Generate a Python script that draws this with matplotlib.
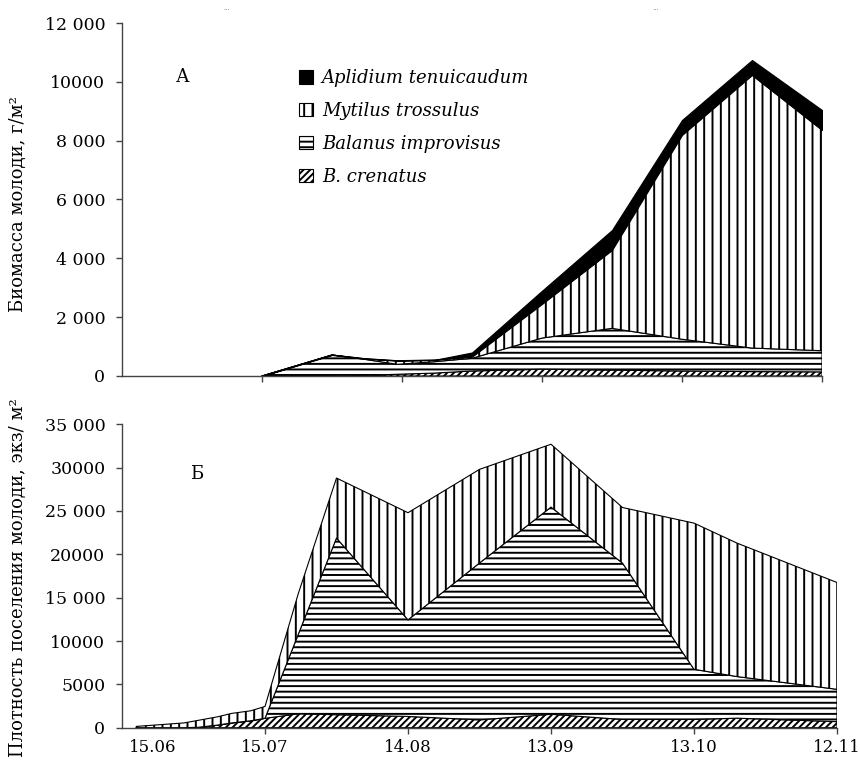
import numpy as np
import matplotlib
matplotlib.use("Agg")
import matplotlib.pyplot as plt
from matplotlib.patches import Patch

plt.rcParams['font.family'] = ['DejaVu Serif']
plt.rcParams['hatch.linewidth'] = 1.4

# ---------------- data ----------------
# days counted from 15.06
tick_days = [30, 60, 90, 120, 150]
tick_labels = ["15.07", "14.08", "13.09", "13.10", "12.11"]
first_label = "15.06"

species = ["Aplidium tenuicaudum", "Mytilus trossulus", "Balanus improvisus", "B. crenatus"]

# Panel A: biomass, g/m2 (individual layers, stacked from bottom)
days_a = [30, 45, 52, 59, 67, 75, 90, 105, 120, 135, 150]
crenatus_a = [0, 0, 20, 60, 100, 170, 230, 200, 170, 150, 140]
balanus_a = [0, 714, 547, 337, 387, 432, 1060, 1420, 1080, 800, 720]
mytilus_a = [0, 0, 23, 123, 57, 54, 1160, 2663, 6943, 9282, 7503]
aplidium_a = [0, 16, 10, 10, 6, 144, 450, 680, 510, 510, 679]

# Panel B: density, ind/m2 (individual layers)
days_b = [3, 8, 13, 16, 20, 23, 27, 30, 37, 45, 60, 75, 90, 105, 120, 129, 150]
crenatus_b = [0, 0, 0, 50, 300, 550, 800, 1085, 1600, 1500, 1300, 900, 1550, 950, 950, 1100, 700]
balanus_b = [0, 0, 0, 0, 0, 0, 0, 0, 9200, 20380, 11140, 18100, 23900, 18040, 5790, 4800, 3730]
mytilus_b = [150, 350, 550, 800, 950, 1100, 1150, 1365, 4700, 6920, 12360, 10800, 7250, 6410, 16860, 15400, 12320]

yticks_a = [0, 2000, 4000, 6000, 8000, 10000, 12000]
ylabels_a = ["0", "2 000", "4 000", "6 000", "8 000", "10000", "12 000"]
yticks_b = [0, 5000, 10000, 15000, 20000, 25000, 30000, 35000]
ylabels_b = ["0", "5000", "10000", "15 000", "20000", "25 000", "30000", "35 000"]

# ---------------- figure ----------------
W, H = 860, 762
fig = plt.figure(figsize=(W / 100, H / 100), dpi=100)

ax1 = fig.add_axes([122 / W, 1 - 376 / H, 700 / W, 353 / H])
ax2 = fig.add_axes([122 / W, 1 - 727.7 / H, 715 / W, 303.4 / H])

styles = {
    "cren": dict(facecolor="white", edgecolor="black", hatch="/////", linewidth=0.8),
    "bal": dict(facecolor="white", edgecolor="black", hatch="---", linewidth=0.8),
    "myt": dict(facecolor="white", edgecolor="black", hatch="||", linewidth=0.8),
    "apl": dict(facecolor="black", edgecolor="black", linewidth=0.8),
}


def stack(ax, days, layers, keys):
    base = np.zeros(len(days))
    for vals, k in zip(layers, keys):
        top = base + np.asarray(vals, float)
        ax.fill_between(days, base, top, **styles[k])
        base = top


stack(ax1, days_a, [crenatus_a, balanus_a, mytilus_a, aplidium_a],
      ["cren", "bal", "myt", "apl"])
stack(ax2, days_b, [crenatus_b, balanus_b, mytilus_b],
      ["cren", "bal", "myt"])

for ax in (ax1, ax2):
    ax.set_xlim(0, 150)
    for s in ("top", "right"):
        ax.spines[s].set_visible(False)
    for s in ("left", "bottom"):
        ax.spines[s].set_color("#444444")
        ax.spines[s].set_linewidth(1.0)
    ax.tick_params(direction="out", length=4, width=1, color="#444444")
    ax.tick_params(axis="y", pad=8, labelsize=12.5)
    ax.tick_params(axis="x", pad=4, labelsize=12)

ax1.set_ylim(0, 12000)
ax1.set_yticks(yticks_a)
ax1.set_yticklabels(ylabels_a)
ax1.set_xticks(tick_days)
ax1.set_xticklabels([])
ax1.set_ylabel("Биомасса молоди, г/м²", fontsize=13)
ax1.yaxis.set_label_coords((27 - 122) / 700, (376 - 204) / 353)

ax2.set_ylim(0, 35000)
ax2.set_yticks(yticks_b)
ax2.set_yticklabels(ylabels_b)
ax2.set_xticks([6.5] + tick_days)
ax2.set_xticklabels([first_label] + tick_labels)
ax2.xaxis.get_major_ticks()[0].tick1line.set_visible(False)
ax2.set_ylabel("Плотность поселения молоди, экз/ м²", fontsize=13)
ax2.yaxis.set_label_coords((27 - 122) / 715, (727.7 - 578) / 303.4)

# panel letters
fig.text(183 / W, 1 - 77 / H, "А", fontsize=13, ha="center", va="center")
fig.text(197 / W, 1 - 474 / H, "Б", fontsize=13, ha="center", va="center")

# small artefact dots at top
fig.text(227 / W, 1 - 8 / H, "...", fontsize=5, ha="center", va="center", color="#777777")
fig.text(656 / W, 1 - 8 / H, "...", fontsize=5, ha="center", va="center", color="#777777")

# legend
handles = [
    Patch(**styles["apl"]),
    Patch(**styles["myt"]),
    Patch(**styles["bal"]),
    Patch(**styles["cren"]),
]
leg = ax1.legend(handles, species, loc="upper left",
                 bbox_to_anchor=(170 / 700, (376 - 62) / 353),
                 frameon=False, handlelength=0.75, handleheight=0.75,
                 handletextpad=0.5, labelspacing=0.82, borderaxespad=0,
                 prop=dict(family="DejaVu Serif", style="italic", size=13))

fig.savefig("out.png", dpi=100)
